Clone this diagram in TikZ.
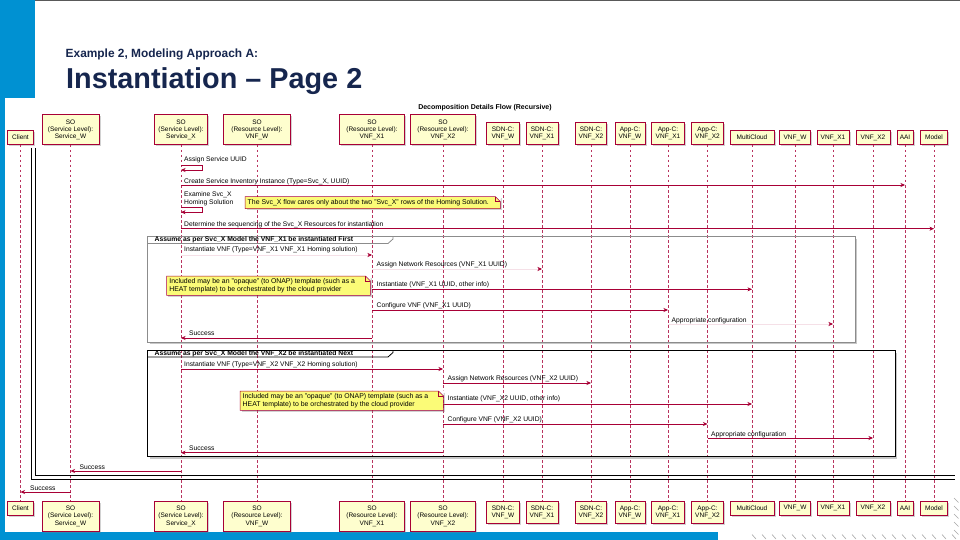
\documentclass[tikz,border=0pt]{standalone}
\usepackage{fontspec}
\setmainfont{Liberation Sans}
\usetikzlibrary{arrows.meta,shadows}
\definecolor{umlred}{RGB}{168,0,54}
\definecolor{pfill}{RGB}{254,254,206}
\definecolor{notefill}{RGB}{251,251,119}
\definecolor{slideblue}{RGB}{0,145,210}
\definecolor{navy}{RGB}{22,38,78}
\newcommand\dfont{\fontsize{6.5}{7.1}\selectfont}
\newcommand\mfont{\fontsize{6.7}{7.3}\selectfont}
\newcommand\nfont{\fontsize{6.9}{7.5}\selectfont}
\newcommand\ptcp[5]{%
  \node[pbox,minimum width=#3pt,minimum height=#4pt,anchor=south] (t#1) at (#2,145) {#5};
  \node[pbox,minimum width=#3pt,minimum height=#4pt,anchor=north] (b#1) at (#2,501) {#5};
  \draw[lifeline] (t#1.south) -- (b#1.north);}
\newcommand\fold[1]{%
  \fill[white] ([xshift=-5pt]#1.north east) -- ([xshift=0.6pt,yshift=0.6pt]#1.north east) -- ([yshift=-5pt]#1.north east) -- cycle;
  \draw[notedraw] (#1.south west) -- (#1.north west) -- ([xshift=-5pt]#1.north east) -- ([yshift=-5pt]#1.north east) -- (#1.south east) -- cycle;
  \draw[notedraw] ([xshift=-5pt]#1.north east) -- ([xshift=-5pt,yshift=-5pt]#1.north east) -- ([yshift=-5pt]#1.north east);}
\tikzset{
  pbox/.style={draw=umlred,fill=pfill,line width=0.7pt,font=\dfont,align=center,inner sep=1pt,
    drop shadow={shadow xshift=1.5pt,shadow yshift=-1.5pt,opacity=0.35}},
  lifeline/.style={draw=umlred!80,line width=0.5pt,dash pattern=on 2.5pt off 2.5pt},
  msg/.style={draw=umlred,line width=0.6pt,-{Stealth[length=4.5pt,width=4pt,inset=1.3pt]}},
  msgfaint/.style={draw=umlred!12,line width=0.5pt,-{Stealth[length=4.5pt,width=4pt,inset=1.3pt,color=umlred]}},
  lbl/.style={anchor=base west,inner sep=0pt,font=\mfont},
  note/.style={fill=notefill,inner sep=0pt,anchor=north west,
    drop shadow={shadow xshift=1.5pt,shadow yshift=-1.5pt,opacity=0.35}},
  notetext/.style={anchor=west,inner sep=0pt,font=\nfont,align=left,xshift=2.5pt},
  notedraw/.style={draw=umlred,line width=0.5pt},
  hdr/.style={anchor=west,inner sep=0pt,font=\bfseries\fontsize{6.8}{7.5}\selectfont},
  grpshadow/.style={draw=black!22,line width=1.5pt},
}
\begin{document}
\begin{tikzpicture}[x=1pt,y=-1pt]
\useasboundingbox (0,0) rectangle (960,540);
% slide background
\fill[white] (0,0) rectangle (960,540);
\fill[slideblue] (0,0) rectangle (35,98);
\fill[slideblue] (0,98) rectangle (5,540);
\fill[slideblue] (0,532) rectangle (718,540);
\draw[black!65,line width=1pt] (35,0.5) -- (960,0.5);
\foreach \hx in {752,762,...,952} \draw[black!35,line width=0.6pt] (\hx,534.5) -- (\hx+4,539);
\foreach \hy in {498,506,...,530} \draw[black!35,line width=0.6pt] (954,\hy) -- (958.5,\hy+4.5);
% slide titles
\node[anchor=base west,inner sep=0pt,font=\bfseries\fontsize{11.9}{13}\selectfont,text=navy] (sub) at (65.5,57.3) {Example 2, Modeling Approach A:};
\node[anchor=base west,inner sep=0pt,font=\bfseries\fontsize{28.8}{30}\selectfont,text=navy] (title) at (66,88.3) {Instantiation – Page 2};
% diagram title
\node[inner sep=0pt,font=\bfseries\fontsize{7}{8}\selectfont] (dtitle) at (485,108) {Decomposition Details Flow (Recursive)};
% participants and lifelines
\ptcp{Client}{20.5}{26}{14}{Client}
\ptcp{SvcW}{70.5}{57}{30}{SO\\(Service Level):\\Service\_W}
\ptcp{SvcX}{181}{53}{30}{SO\\(Service Level):\\Service\_X}
\ptcp{SOW}{257}{67}{30}{SO\\(Resource Level):\\VNF\_W}
\ptcp{SOX1}{372}{65}{30}{SO\\(Resource Level):\\VNF\_X1}
\ptcp{SOX2}{443}{65}{30}{SO\\(Resource Level):\\VNF\_X2}
\ptcp{SDNW}{503}{33}{22}{SDN-C:\\VNF\_W}
\ptcp{SDNX1}{542}{32}{22}{SDN-C:\\VNF\_X1}
\ptcp{SDNX2}{591}{31}{22}{SDN-C:\\VNF\_X2}
\ptcp{AppW}{630}{30}{22}{App-C:\\VNF\_W}
\ptcp{AppX1}{668}{33}{22}{App-C:\\VNF\_X1}
\ptcp{AppX2}{707.5}{32}{22}{App-C:\\VNF\_X2}
\ptcp{MC}{752}{44}{14}{MultiCloud}
\ptcp{VW}{795}{31}{14}{VNF\_W}
\ptcp{VXa}{833}{32}{14}{VNF\_X1}
\ptcp{VXb}{873}{34}{14}{VNF\_X2}
\ptcp{AAI}{905}{16}{14}{AAI}
\ptcp{Model}{934}{27}{14}{Model}
% outer frames (continued from previous page)
\draw[black,line width=1pt] (31.7,148) -- (31.7,479) -- (955,479);
\draw[black,line width=1pt] (35,148) -- (35,475.7) -- (955,475.7);
% messages before groups
\draw[msg] (tSvcX |- 0,165.5) -- ++(21,0) -- ++(0,4.5) -- (tSvcX |- 0,170);
\node[lbl,xshift=3pt] (m1) at (tSvcX |- 0,161.3) {Assign Service UUID};
\draw[msg] (tSvcX |- 0,185) -- (tAAI |- 0,185);
\node[lbl,xshift=3pt] (m2) at (tSvcX |- 0,183) {Create Service Inventory Instance (Type=Svc\_X, UUID)};
\draw[msg] (tSvcX |- 0,207.7) -- ++(21,0) -- ++(0,4.5) -- (tSvcX |- 0,212.2);
\node[anchor=south west,inner sep=0pt,font=\mfont,align=left,xshift=3pt] (m3) at (tSvcX |- 0,205.8) {Examine Svc\_X\\Homing Solution};
\node[note,minimum width=255pt,minimum height=11.6pt] (n1) at (245,196.7) {};
\node[notetext] (n1t) at (n1.west) {The Svc\_X flow cares only about the two "Svc\_X" rows of the Homing Solution.};
\fold{n1}
\draw[msg] (tSvcX |- 0,228.7) -- (tModel |- 0,228.7);
\node[lbl,xshift=3pt] (m4) at (tSvcX |- 0,226.5) {Determine the sequencing of the Svc\_X Resources for instantiation};
% group 1
\draw[grpshadow] (149.5,343.3) -- (856.3,343.3) -- (856.3,239);
\draw[black!45,line width=0.8pt] (147.3,236.7) rectangle (855,342);
\draw[black!45,line width=0.8pt] (147.3,243.5) -- (388,243.5) -- (393,239) -- (393,236.7);
\node[hdr] (g1) at (154.5,240.2) {Assume as per Svc\_X Model the VNF\_X1 be instantiated First};
\draw[msgfaint] (tSvcX |- 0,255) -- (tSOX1 |- 0,255);
\node[lbl,xshift=3pt] (m5) at (tSvcX |- 0,251.5) {Instantiate VNF (Type=VNF\_X1 VNF\_X1 Homing solution)};
\draw[msgfaint] (tSOX1 |- 0,269) -- (tSDNX1 |- 0,269);
\node[lbl,xshift=4.5pt] (m6) at (tSOX1 |- 0,266.3) {Assign Network Resources (VNF\_X1 UUID)};
\draw[msg] (tSOX1 |- 0,289.3) -- (tMC |- 0,289.3);
\node[lbl,xshift=4.5pt] (m7) at (tSOX1 |- 0,286.5) {Instantiate (VNF\_X1 UUID, other info)};
\draw[msg] (tSOX1 |- 0,310) -- (tAppX1 |- 0,310);
\node[lbl,xshift=4.5pt] (m8) at (tSOX1 |- 0,307.3) {Configure VNF (VNF\_X1 UUID)};
\draw[msgfaint] (tAppX1 |- 0,324) -- (tVXa |- 0,324);
\node[lbl,xshift=3.5pt] (m9) at (tAppX1 |- 0,322) {Appropriate configuration};
\draw[msg] (tSOX1 |- 0,338) -- (tSvcX |- 0,338);
\node[lbl,xshift=8pt] (m10) at (tSvcX |- 0,335.5) {Success};
\node[note,minimum width=203.3pt,minimum height=19pt] (n2) at (166.7,276) {};
\node[notetext] (n2t) at (n2.west) {Included may be an "opaque" (to ONAP) template (such as a\\HEAT template) to be orchestrated by the cloud provider};
\fold{n2}
% group 2
\draw[grpshadow] (149.5,458) -- (896.3,458) -- (896.3,352.5);
\draw[black,line width=0.8pt] (147.3,350) rectangle (895,456.7);
\draw[black,line width=0.8pt] (147.3,357) -- (388,357) -- (393,352.5) -- (393,350);
\node[hdr] (g2) at (154.5,353.6) {Assume as per Svc\_X Model the VNF\_X2 be instantiated Next};
\draw[msg] (tSvcX |- 0,369) -- (tSOX2 |- 0,369);
\node[lbl,xshift=3pt] (m11) at (tSvcX |- 0,366.5) {Instantiate VNF (Type=VNF\_X2 VNF\_X2 Homing solution)};
\draw[msg] (tSOX2 |- 0,383) -- (tSDNX2 |- 0,383);
\node[lbl,xshift=4.5pt] (m12) at (tSOX2 |- 0,380.5) {Assign Network Resources (VNF\_X2 UUID)};
\draw[msg] (tSOX2 |- 0,404) -- (tMC |- 0,404);
\node[lbl,xshift=4.5pt] (m13) at (tSOX2 |- 0,400.5) {Instantiate (VNF\_X2 UUID, other info)};
\draw[msg] (tSOX2 |- 0,424) -- (tAppX2 |- 0,424);
\node[lbl,xshift=4.5pt] (m14) at (tSOX2 |- 0,421.3) {Configure VNF (VNF\_X2 UUID)};
\draw[msg] (tAppX2 |- 0,438) -- (tVXb |- 0,438);
\node[lbl,xshift=3.5pt] (m15) at (tAppX2 |- 0,436) {Appropriate configuration};
\draw[msg] (tSOX2 |- 0,452.7) -- (tSvcX |- 0,452.7);
\node[lbl,xshift=8pt] (m16) at (tSvcX |- 0,450.3) {Success};
\node[note,minimum width=203pt,minimum height=19pt] (n3) at (240,391) {};
\node[notetext] (n3t) at (n3.west) {Included may be an "opaque" (to ONAP) template (such as a\\HEAT template) to be orchestrated by the cloud provider};
\fold{n3}
% final replies
\draw[msg] (tSvcX |- 0,471) -- (tSvcW |- 0,471);
\node[lbl,xshift=9pt] (m17) at (tSvcW |- 0,469) {Success};
\draw[msg] (tSvcW |- 0,492) -- (tClient |- 0,492);
\node[lbl,xshift=9.5pt] (m18) at (tClient |- 0,490) {Success};
\end{tikzpicture}
\end{document}
